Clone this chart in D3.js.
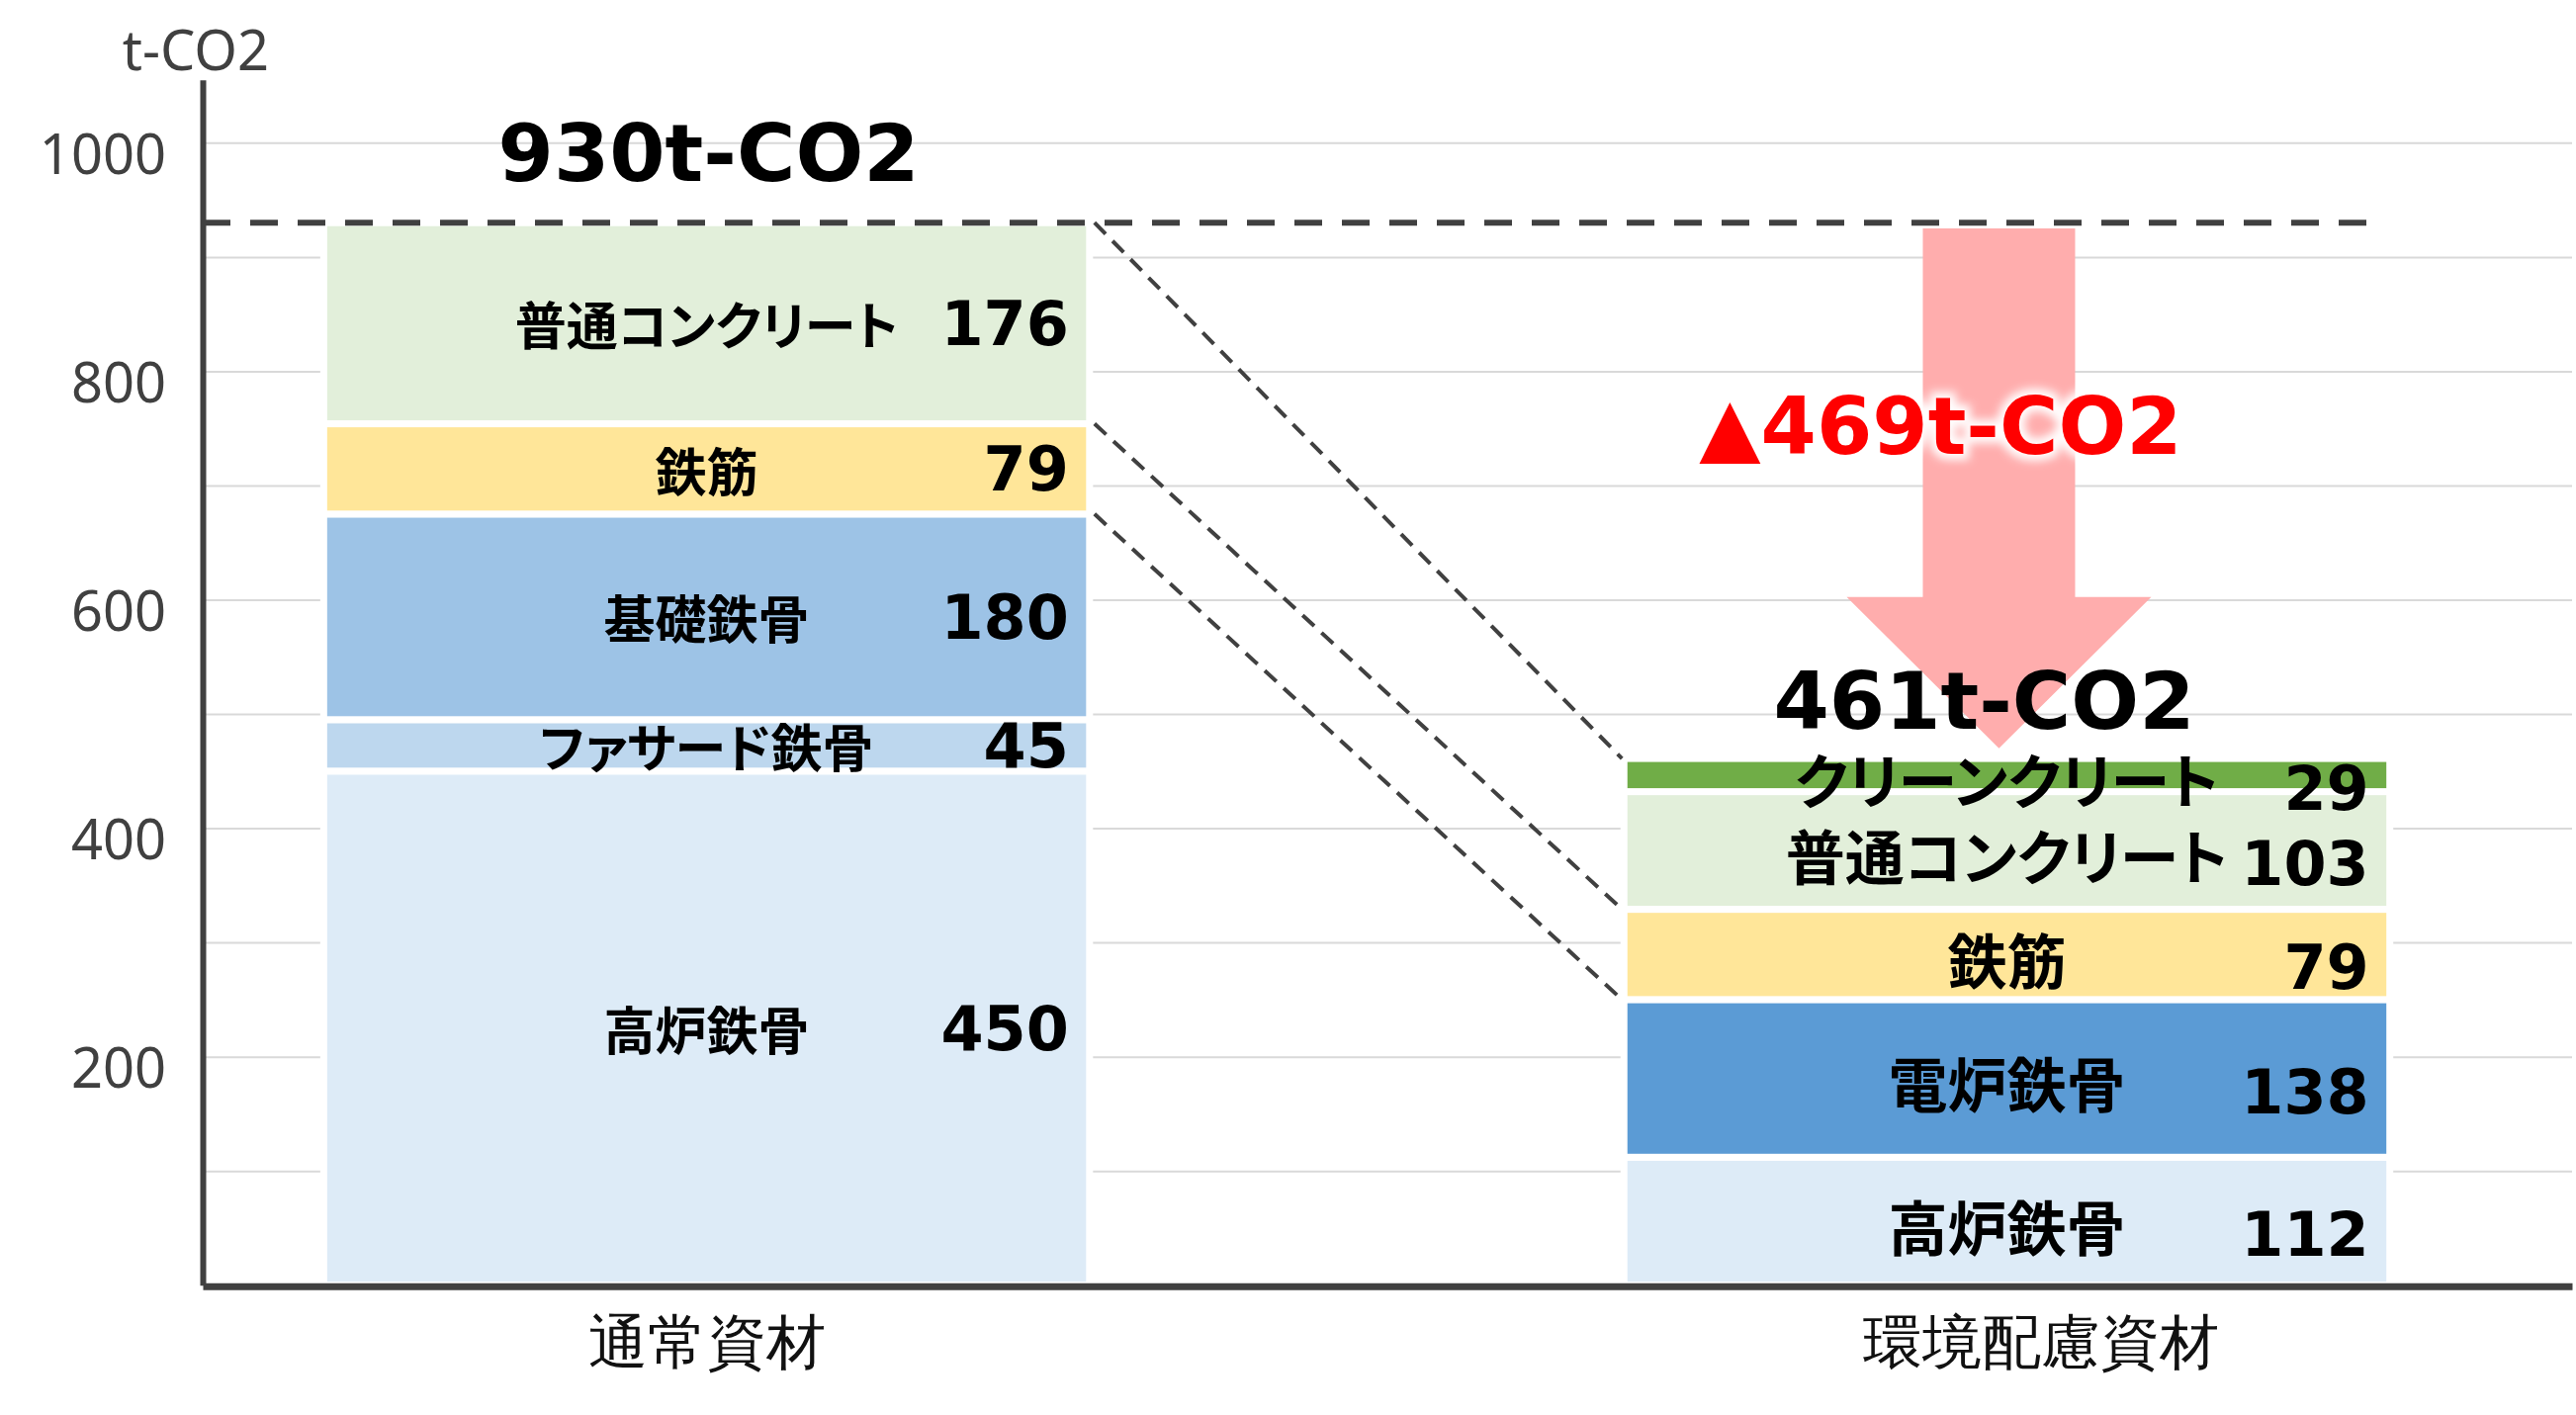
<!DOCTYPE html>
<html lang="ja">
<head>
<meta charset="utf-8">
<script src="https://cdn.jsdelivr.net/npm/d3@7"></script>
<style>
  html, body { margin: 0; padding: 0; background: #fff; }
  svg { display: block; }
  .jp { font-family: "Noto Sans CJK JP", sans-serif; font-feature-settings: "palt" 1; }
  .num { font-family: "DejaVu Sans", sans-serif; font-weight: bold; }
  .tick text { font-family: "Noto Sans", "Open Sans", sans-serif; }
</style>
</head>
<body>
<div id="chart"></div>
<script>
// data
const categories = ["通常資材", "環境配慮資材"];
const normalItems = ["高炉鉄骨", "ファサード鉄骨", "基礎鉄骨", "鉄筋", "普通コンクリート"];
const normalValues = [450, 45, 180, 79, 176];
const ecoItems = ["高炉鉄骨", "電炉鉄骨", "鉄筋", "普通コンクリート", "クリーンクリート"];
const ecoValues = [112, 138, 79, 103, 29];
const gridTicks = [100, 200, 300, 400, 500, 600, 700, 800, 900, 1000];
const labelTicks = [200, 400, 600, 800, 1000];
const unit = "t-CO2";
const linkedItem = "鉄筋";
const arrowFrom = 925, arrowTo = 470;

const colors = {
  "高炉鉄骨": "#DDEBF7",
  "ファサード鉄骨": "#BDD7EE",
  "基礎鉄骨": "#9DC3E6",
  "鉄筋": "#FFE699",
  "普通コンクリート": "#E2EFDA",
  "電炉鉄骨": "#5B9BD5",
  "クリーンクリート": "#70AD47"
};

const W = 2605, H = 1431;
const plotLeft = 205, plotRight = 2601;
const dark = "#404040";

const stackUp = (items, values) => {
  let acc = 0;
  return items.map((item, i) => {
    const d = { item, value: values[i], y0: acc, y1: acc + values[i] };
    acc += values[i];
    return d;
  });
};
const stacks = [stackUp(normalItems, normalValues), stackUp(ecoItems, ecoValues)];
const totals = stacks.map(s => d3.sum(s, d => d.value));

const x = d3.scaleBand().domain(categories).range([plotLeft, plotRight])
  .paddingInner(0.411).paddingOuter(0.1166).align(0.399);
const y = d3.scaleLinear().domain([0, 1055]).range([1299.7, 80.8]);
const bw = x.bandwidth();

const svg = d3.select("#chart").append("svg").attr("width", W).attr("height", H);
const defs = svg.append("defs");
defs.append("filter").attr("id", "glow").attr("x", "-20%").attr("y", "-40%").attr("width", "140%").attr("height", "180%")
  .append("feGaussianBlur").attr("stdDeviation", 5);

// gridlines
svg.append("g").attr("transform", `translate(${plotLeft},0)`)
  .call(d3.axisLeft(y).tickValues(gridTicks).tickSize(-(plotRight - plotLeft)).tickFormat(""))
  .call(g => g.select(".domain").remove())
  .call(g => g.selectAll("line").attr("stroke", "#d9d9d9").attr("stroke-width", 2));

// stacked bars
stacks.forEach((stack, ci) => {
  svg.append("g").selectAll("rect").data(stack).join("rect")
    .attr("x", x(categories[ci]))
    .attr("y", d => y(d.y1))
    .attr("width", bw)
    .attr("height", d => y(d.y0) - y(d.y1))
    .attr("fill", d => colors[d.item])
    .attr("stroke", "#fff")
    .attr("stroke-width", 7);
});

// dashed line at the original total
svg.append("line")
  .attr("x1", plotLeft).attr("x2", 2400)
  .attr("y1", y(totals[0])).attr("y2", y(totals[0]))
  .attr("stroke", dark).attr("stroke-width", 6).attr("stroke-dasharray", "28,20");

// connectors between the bars
const linkL = stacks[0].find(d => d.item === linkedItem);
const linkR = stacks[1].find(d => d.item === linkedItem);
const links = [[totals[0], totals[1]], [linkL.y1, linkR.y1], [linkL.y0, linkR.y0]];
svg.append("g").selectAll("line").data(links).join("line")
  .attr("x1", x(categories[0]) + bw + 5).attr("x2", x(categories[1]) - 2)
  .attr("y1", d => y(d[0])).attr("y2", d => y(d[1]))
  .attr("stroke", dark).attr("stroke-width", 4).attr("stroke-dasharray", "16,10");

// reduction arrow
const cx = x(categories[1]) + bw / 2 - 8;
const arrowTop = y(arrowFrom), arrowTip = y(arrowTo), headLen = 153, shaft = 77, head = 154;
svg.append("polygon")
  .attr("points", [
    [cx - shaft, arrowTop], [cx + shaft, arrowTop], [cx + shaft, arrowTip - headLen], [cx + head, arrowTip - headLen],
    [cx, arrowTip], [cx - head, arrowTip - headLen], [cx - shaft, arrowTip - headLen]
  ].map(p => p.join(",")).join(" "))
  .attr("fill", "#FFADAD");

const redText = `▲${totals[0] - totals[1]}${unit}`;
const redX = cx - 59, redY = (arrowTop + arrowTip) / 2 - 35;
svg.append("text").attr("class", "num").attr("x", redX).attr("y", redY)
  .attr("text-anchor", "middle").attr("font-size", 81)
  .attr("fill", "#fff").attr("stroke", "#fff").attr("stroke-width", 12)
  .attr("filter", "url(#glow)").text(redText);
svg.append("text").attr("class", "num").attr("x", redX).attr("y", redY)
  .attr("text-anchor", "middle").attr("font-size", 81).attr("fill", "#FF0000").text(redText);

// totals
const totalDx = [2, -23], totalDy = [-42, -30];
totals.forEach((t, ci) => {
  svg.append("text").attr("class", "num")
    .attr("x", x(categories[ci]) + bw / 2 + totalDx[ci])
    .attr("y", y(t) + totalDy[ci])
    .attr("text-anchor", "middle").attr("font-size", 81).attr("fill", "#000")
    .text(`${t}${unit}`);
});

// segment labels
const nameSize = [52, 60], nameDy = [0, 3], valueDy = [22, 35];
stacks.forEach((stack, ci) => {
  const g = svg.append("g");
  g.selectAll("text.name").data(stack).join("text").attr("class", "name jp")
    .attr("x", x(categories[ci]) + bw / 2)
    .attr("y", d => (y(d.y0) + y(d.y1)) / 2 + nameDy[ci])
    .attr("text-anchor", "middle").attr("dominant-baseline", "central")
    .attr("font-size", nameSize[ci]).attr("font-weight", 700).attr("fill", "#000")
    .text(d => d.item);
  g.selectAll("text.val").data(stack).join("text").attr("class", "val num")
    .attr("x", x(categories[ci]) + bw - 21)
    .attr("y", d => (y(d.y0) + y(d.y1)) / 2 + valueDy[ci])
    .attr("text-anchor", "end").attr("font-size", 62).attr("fill", "#000")
    .text(d => d.value);
});

// y axis
svg.append("g").attr("transform", `translate(${plotLeft},0)`)
  .call(d3.axisLeft(y).tickValues(labelTicks).tickFormat(d3.format("d"))
    .tickSize(0).tickSizeOuter(0).tickPadding(37))
  .call(g => g.select(".domain").attr("stroke", dark).attr("stroke-width", 6))
  .call(g => g.selectAll("text").attr("font-size", 56).attr("fill", dark).attr("dy", "0.55em"));

svg.append("text").attr("x", 198).attr("y", 71).attr("text-anchor", "middle")
  .attr("font-family", "'Noto Sans', 'Open Sans', sans-serif").attr("font-size", 56).attr("fill", dark)
  .text(unit);

// x axis
const catDx = { "環境配慮資材": 35 };
svg.append("g").attr("transform", `translate(0,${y(0) + 1})`)
  .call(d3.axisBottom(x).tickSize(0).tickSizeOuter(0).tickPadding(35))
  .call(g => g.select(".domain").attr("stroke", dark).attr("stroke-width", 7))
  .call(g => g.selectAll("text").attr("class", "jp").attr("font-size", 60).attr("fill", "#111")
    .attr("dx", d => catDx[d] || 0));
</script>
</body>
</html>
